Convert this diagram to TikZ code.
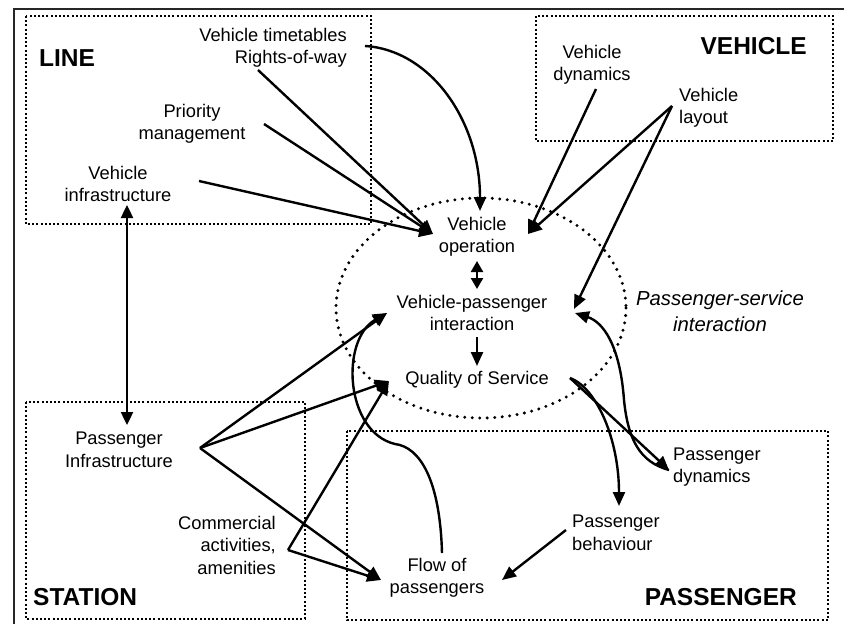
\documentclass[tikz,border=0pt]{standalone}
\usepackage{fontspec}
\setmainfont{Liberation Sans}
\usetikzlibrary{arrows.meta}
\begin{document}
\begin{tikzpicture}[x=1pt,y=-1pt,
  txt/.style={inner sep=0pt, font=\fontsize{18.3}{22.5}\selectfont, align=center},
  ttl/.style={inner sep=0pt, font=\fontsize{24.5}{28}\selectfont\bfseries},
  itx/.style={inner sep=0pt, font=\fontsize{20.3}{26}\selectfont\itshape, align=center},
  dotbox/.style={line width=2.2pt, dash pattern=on 2pt off 2.2pt},
  dotell/.style={line width=3.3pt, line cap=round, dash pattern=on 0pt off 7.5pt},
  arr/.style={line width=2.4pt, -{Triangle[length=14pt,width=12pt]}},
  darr/.style={line width=2.4pt, {Triangle[length=13pt,width=12pt]}-{Triangle[length=13pt,width=12pt]}},
  sdarr/.style={line width=2.4pt, {Triangle[length=11pt,width=12pt]}-{Triangle[length=11pt,width=12pt]}},
  frame/.style={line width=2.2pt, black!85}]
\useasboundingbox (0,0) rectangle (844,624);

% outer frame (left and top)
\draw[frame] (14,624) -- (14,9) -- (844,9);

% group boxes
\draw[dotbox] (26,16) rectangle (371,224);
\draw[dotbox] (536,16) rectangle (833,141);
\draw[dotbox] (26,402) rectangle (305,619);
\draw[dotbox] (347,431) rectangle (828,620);
\draw[dotell] (481,308) ellipse [x radius=145, y radius=110];

% titles
\node[ttl, anchor=west] (tline) at (39,58) {LINE};
\node[ttl, anchor=east] (tveh) at (807,46) {VEHICLE};
\node[ttl, anchor=west] (tsta) at (33,597) {STATION};
\node[ttl, anchor=east] (tpas) at (797,597) {PASSENGER};

% text nodes
\node[txt, align=right, anchor=east] (vt) at (347,48) {Vehicle timetables\\Rights-of-way};
\node[txt] (pm) at (192,124) {Priority\\management};
\node[txt] (vi) at (118,184) {Vehicle\\infrastructure};
\node[txt] (vd) at (592,65) {Vehicle\\dynamics};
\node[txt, align=left, anchor=west] (vl) at (679,108) {Vehicle\\layout};
\node[txt] (vo) at (477,237) {Vehicle\\operation};
\node[txt] (vpi) at (472,313) {Vehicle-passenger\\interaction};
\node[txt] (qos) at (477,380) {Quality of Service};
\node[itx] (psi) at (720,311) {Passenger-service\\interaction};
\node[txt] (pi) at (119,450) {Passenger\\Infrastructure};
\node[txt, align=right, anchor=east] (ca) at (276,545) {Commercial\\activities,\\amenities};
\node[txt] (fp) at (437,578) {Flow of\\passengers};
\node[txt, align=left, anchor=west] (pb) at (572,533) {Passenger\\behaviour};
\node[txt, align=left, anchor=west] (pd) at (673,467) {Passenger\\dynamics};

% connection points
\coordinate (vtE) at (365,46);
\coordinate (rowS) at (258,70);
\coordinate (pmE) at (264,124);
\coordinate (viE) at (199,181);
\coordinate (viS) at (127,205);
\coordinate (piN) at (127,425);
\coordinate (vdS) at (596,89);
\coordinate (vlW) at (672,106);
\coordinate (voW) at (433,234);
\coordinate (voE) at (528,234);
\coordinate (voN) at (480,211);
\coordinate (voS) at (477,261);
\coordinate (vpiN) at (477,289);
\coordinate (vpiS) at (477,337);
\coordinate (qosN) at (477,366);
\coordinate (vpiW) at (387,313);
\coordinate (vpiE) at (574,309);
\coordinate (vpiE2) at (575,313);
\coordinate (qosW) at (389,381);
\coordinate (qosE) at (570,378);
\coordinate (piE) at (200,448);
\coordinate (caE) at (288,550);
\coordinate (fpW) at (381,580);
\coordinate (fpE) at (502,580);
\coordinate (fpN) at (442,553);
\coordinate (pbN) at (619,506);
\coordinate (pbW) at (566,530);
\coordinate (pdW) at (669,470);

% connectors
\draw[arr] (vtE) .. controls (430,50) and (480,120) .. (voN);
\draw[arr] (rowS) -- (voW);
\draw[arr] (pmE) -- (voW);
\draw[arr] (viE) -- (voW);
\draw[arr] (vdS) -- (voE);
\draw[arr] (vlW) -- (voE);
\draw[arr] (vlW) -- (vpiE);
\draw[sdarr] (voS) -- (vpiN);
\draw[arr] (vpiS) -- (qosN);
\draw[darr] (viS) -- (piN);
\draw[arr] (piE) -- (vpiW);
\draw[arr] (piE) -- (qosW);
\draw[arr] (piE) -- (fpW);
\draw[arr] (caE) -- (qosW);
\draw[arr] (caE) -- (fpW);
\draw[arr] (fpN) .. controls (440,480) and (420,447) .. (395,444)
                 .. controls (345,432) and (340,340) .. (vpiW);
\draw[arr] (qosE) -- (pdW);
\draw[arr] (qosE) .. controls (597,388) and (619,440) .. (pbN);
\draw[arr] (pdW) .. controls (640,462) and (628,440) .. (624,400)
                 .. controls (620,345) and (603,322) .. (vpiE2);
\draw[arr] (pbW) -- (fpE);
\end{tikzpicture}
\end{document}
